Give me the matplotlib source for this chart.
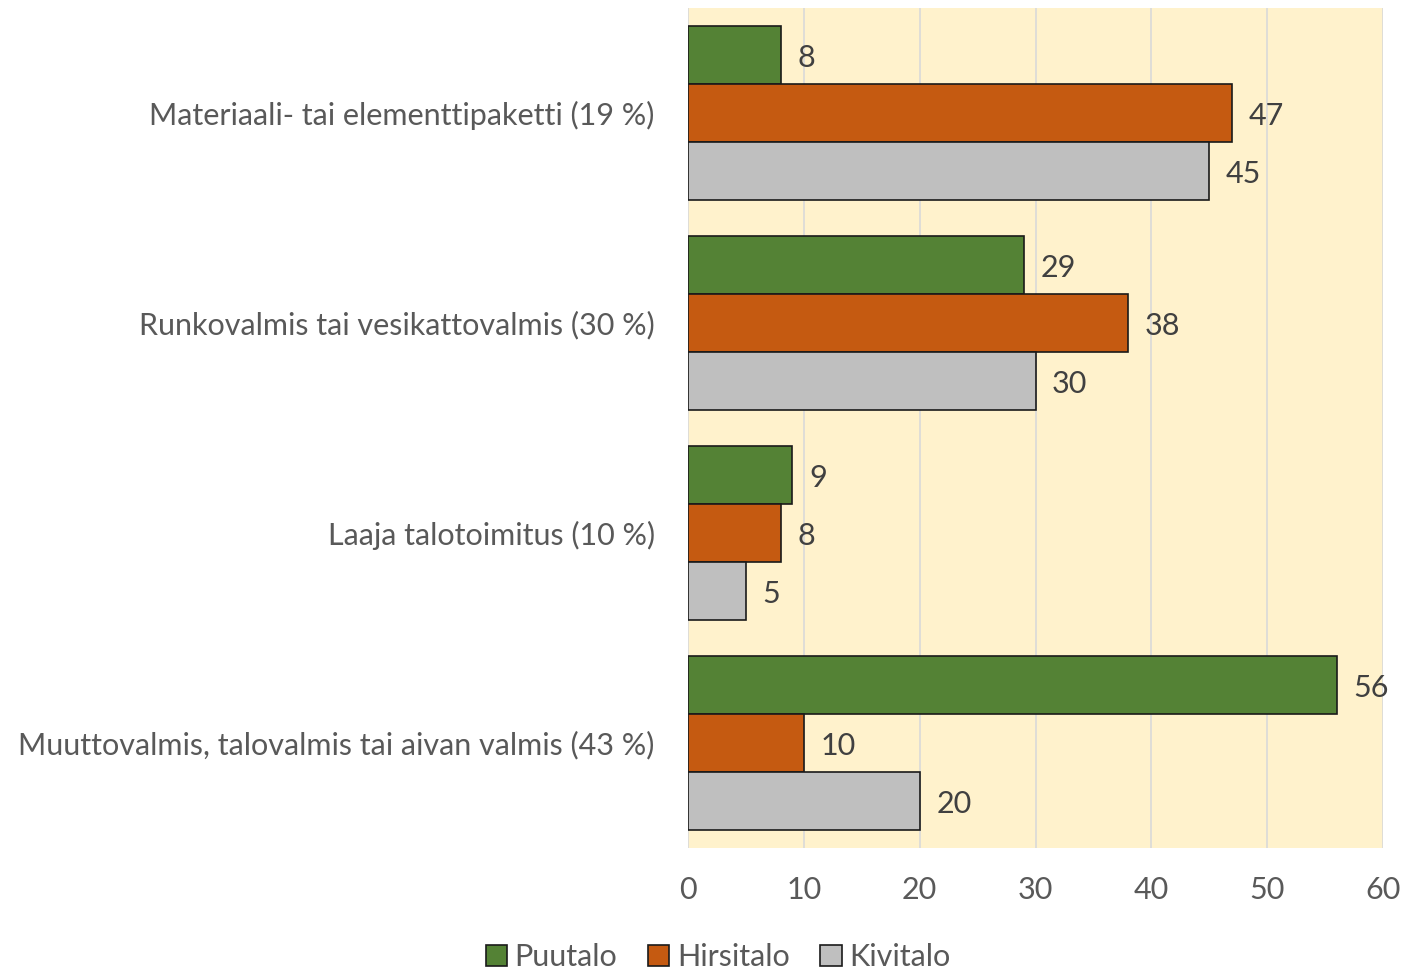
import matplotlib
matplotlib.use("Agg")
import matplotlib.pyplot as plt
import numpy as np

categories = [
    "Materiaali- tai elementtipaketti (19 %)",
    "Runkovalmis tai vesikattovalmis (30 %)",
    "Laaja talotoimitus (10 %)",
    "Muuttovalmis, talovalmis tai aivan valmis (43 %)",
]
series_names = ["Puutalo", "Hirsitalo", "Kivitalo"]
puutalo = [8, 29, 9, 56]
hirsitalo = [47, 38, 8, 10]
kivitalo = [45, 30, 5, 20]
xticks = [0, 10, 20, 30, 40, 50, 60]

colors = ["#548235", "#C55A11", "#BFBFBF"]
text_color = "#595959"
plt.rcParams['font.family'] = ['Lato', 'DejaVu Sans']
fs = 22

fig = plt.figure(figsize=(14.08, 9.73), dpi=100)
ax = fig.add_axes([688/1408, 1-848/973, (1383-688)/1408, 840/973])
ax.set_facecolor("#FFF2CC")

bar_h = 58/210
n = len(categories)
centers = np.arange(n)
all_series = [puutalo, hirsitalo, kivitalo]
for i, (vals, name, c) in enumerate(zip(all_series, series_names, colors)):
    ys = centers + (i - 1) * bar_h
    ax.barh(ys, vals, height=bar_h, color=c, edgecolor="#1a1a1a",
            linewidth=1.2, label=name, zorder=3)
    for y, v in zip(ys, vals):
        ax.annotate(str(v), (v, y), xytext=(12, -2), textcoords="offset points",
                    ha="left", va="center", fontsize=fs, color="#404040")

ax.set_ylim(n - 0.5, -0.5)
ax.set_xlim(0, 60)
ax.set_xticks(xticks)
ax.set_yticks(centers)
ax.set_yticklabels(categories, fontsize=fs, color=text_color)
ax.tick_params(axis='y', length=0, pad=24)
ax.tick_params(axis='x', length=0, pad=20, labelsize=fs, labelcolor=text_color)
ax.grid(axis='x', color="#D9D9D9", linewidth=1.2, zorder=0)
ax.set_axisbelow(True)
for s in ax.spines.values():
    s.set_visible(False)

handles, labels = ax.get_legend_handles_labels()
fig.legend(handles, labels, loc="center", bbox_to_anchor=(718/1408, 1-957/973),
           ncol=3, frameon=False, fontsize=fs, labelcolor=text_color,
           handlelength=0.7, handleheight=0.7, handletextpad=0.25, columnspacing=1.0,
           borderaxespad=0)

fig.savefig("out.png", dpi=100)
